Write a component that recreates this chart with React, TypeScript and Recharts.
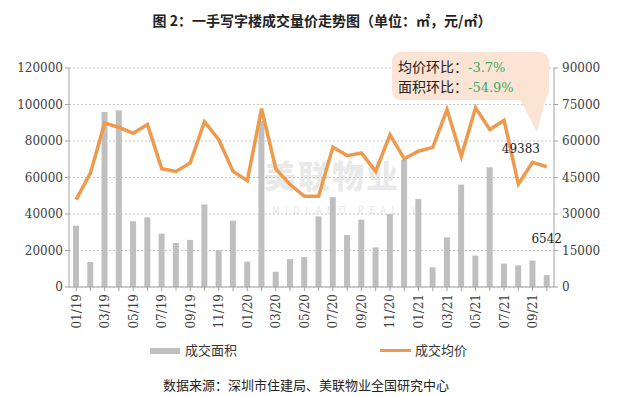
import { ComposedChart, Bar, Line, XAxis, YAxis, CartesianGrid, LabelList } from 'recharts'

const months = [
  '01/19', '02/19', '03/19', '04/19', '05/19', '06/19', '07/19', '08/19', '09/19', '10/19', '11/19', '12/19',
  '01/20', '02/20', '03/20', '04/20', '05/20', '06/20', '07/20', '08/20', '09/20', '10/20', '11/20', '12/20',
  '01/21', '02/21', '03/21', '04/21', '05/21', '06/21', '07/21', '08/21', '09/21', '10/21',
]

// 成交面积 (㎡)
const area = [
  33600, 13700, 95900, 96800, 36000, 38100, 29200, 24100, 25800, 45200, 20200, 36300,
  13900, 91000, 8400, 15300, 16400, 38700, 49200, 28500, 36900, 21700, 40000, 69800,
  48200, 10800, 27200, 56100, 17200, 65600, 12800, 11900, 14500, 6542,
]

// 成交均价 (元/㎡)
const price = [
  35900, 46800, 67400, 65600, 63200, 66800, 48600, 47500, 51000, 67900, 60500, 47500,
  43700, 73300, 48500, 42100, 37300, 37300, 57500, 54000, 55100, 47500, 62600, 52700,
  55800, 57400, 72900, 53700, 73600, 64700, 68500, 42300, 51280, 49383,
]

const leftTicks = [0, 20000, 40000, 60000, 80000, 100000, 120000]
const rightTicks = [0, 15000, 30000, 45000, 60000, 75000, 90000]

const data = months.map((m, i) => ({ month: m, area: area[i], price: price[i] }))
const last = months.length - 1

const numFont = '"DejaVu Serif", serif'
const cjkFont = '"Noto Sans CJK SC", sans-serif'
const BAR = '#bfbfbf'
const ORANGE = '#ee9a4d'
const AXIS = '#a3a3a3'

function MonthTick(props: any) {
  const { x, y, payload, index } = props
  if (index % 2 !== 0) return null
  return (
    <g transform={`translate(${x},${y})`}>
      <text transform="rotate(-90)" textAnchor="end" dy={4.5} fontSize={12} fontFamily={numFont} fill="#404040">
        {payload.value}
      </text>
    </g>
  )
}

export default function App() {
  return (
    <div style={{ position: 'relative', width: 641, height: 395, background: '#fff', overflow: 'hidden' }}>
      <style>{'body{margin:0}'}</style>
      <div style={{ position: 'absolute', top: 11, left: 0, width: 644, textAlign: 'center', fontFamily: cjkFont, fontSize: 14, fontWeight: 700, lineHeight: '18px', color: '#222' }}>
        图 2：一手写字楼成交量价走势图（单位：㎡，元/㎡）
      </div>

      {/* watermark */}
      <div style={{ position: 'absolute', left: 264, top: 158, fontFamily: cjkFont, fontSize: 32, lineHeight: '32px', fontWeight: 900, color: 'rgba(170,170,170,.25)', letterSpacing: 2 }}>
        美联物业
      </div>
      <div style={{ position: 'absolute', left: 272, top: 204, fontFamily: cjkFont, fontSize: 10, lineHeight: '11px', color: 'rgba(170,170,170,.3)', letterSpacing: 5 }}>
        MIDLAND REALTY
      </div>

      <div style={{ position: 'absolute', top: 0, left: 0 }}>
        <ComposedChart width={641} height={345} data={data} margin={{ top: 68, right: 0, left: 0, bottom: 0 }}>
          <CartesianGrid yAxisId="left" vertical={false} strokeDasharray="2 2" stroke="#c4c4c4" />
          <XAxis dataKey="month" interval={0} height={58} tick={<MonthTick />} tickSize={4} tickMargin={3}
            stroke={AXIS} />
          <YAxis yAxisId="left" width={69} domain={[0, 120000]} ticks={leftTicks} tickSize={4} tickMargin={2}
            stroke={AXIS} tick={{ fontSize: 12, fontFamily: numFont, fill: '#404040' }} />
          <YAxis yAxisId="right" orientation="right" width={87} domain={[0, 90000]} ticks={rightTicks} tickSize={4} tickMargin={4}
            stroke={AXIS} tick={{ fontSize: 12, fontFamily: numFont, fill: '#404040', textAnchor: 'start' }} />
          <Bar yAxisId="left" dataKey="area" fill={BAR} barSize={6} isAnimationActive={false}>
            <LabelList dataKey="area" content={(p: any) => p.index === last ? (
              <text x={p.x + p.width / 2} y={p.y - 32} textAnchor="middle" fontSize={12} fontFamily={numFont} fill="#222">{p.value}</text>
            ) : null} />
          </Bar>
          <Line yAxisId="right" dataKey="price" stroke={ORANGE} strokeWidth={3.5} dot={false} isAnimationActive={false}>
            <LabelList dataKey="price" content={(p: any) => p.index === last ? (
              <text x={p.x - 26} y={p.y - 14} textAnchor="middle" fontSize={12} fontFamily={numFont} fill="#222">{p.value}</text>
            ) : null} />
          </Line>
        </ComposedChart>
      </div>

      {/* callout */}
      <svg width={641} height={395} style={{ position: 'absolute', top: 0, left: 0, pointerEvents: 'none' }}>
        <rect x={392} y={52} width={157} height={48} rx={9} fill="#fbe4d4" />
        <polygon points="520,99 547,94 537,132" fill="#fbe4d4" />
      </svg>
      <div style={{ position: 'absolute', left: 398, top: 57, fontSize: 14, lineHeight: '18px', color: '#222' }}>
        <div><span style={{ fontFamily: cjkFont }}>均价环比：</span><span style={{ fontFamily: numFont, color: '#3aaa6a', fontSize: 13 }}>-3.7%</span></div>
        <div><span style={{ fontFamily: cjkFont }}>面积环比：</span><span style={{ fontFamily: numFont, color: '#3aaa6a', fontSize: 13 }}>-54.9%</span></div>
      </div>

      {/* legend */}
      <div style={{ position: 'absolute', left: 150, top: 348, width: 30, height: 6, background: BAR }} />
      <div style={{ position: 'absolute', left: 185, top: 341, fontFamily: cjkFont, fontSize: 13, lineHeight: '18px', color: '#333' }}>成交面积</div>
      <div style={{ position: 'absolute', left: 380, top: 349, width: 31, height: 3, background: ORANGE }} />
      <div style={{ position: 'absolute', left: 415, top: 341, fontFamily: cjkFont, fontSize: 13, lineHeight: '18px', color: '#333' }}>成交均价</div>

      <div style={{ position: 'absolute', left: 163, top: 376, fontFamily: cjkFont, fontSize: 13, lineHeight: '18px', color: '#222' }}>
        数据来源：深圳市住建局、美联物业全国研究中心
      </div>
    </div>
  )
}
